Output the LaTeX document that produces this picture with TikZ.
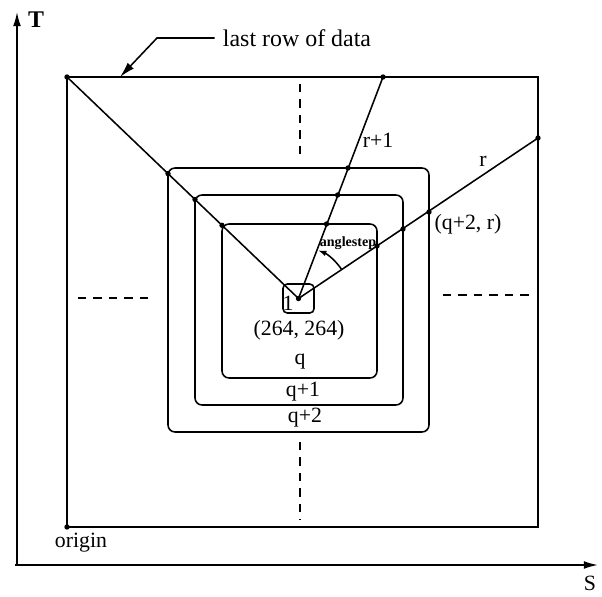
\documentclass[tikz,border=0pt]{standalone}
\usepackage{fontspec}
\setmainfont{Liberation Serif}
\usetikzlibrary{arrows.meta,calc}
\begin{document}
\begin{tikzpicture}[x=0.025cm,y=-0.025cm,
  ln/.style={line width=1.1pt},
  rbox/.style={line width=1.1pt, rounded corners=5pt},
  dashln/.style={line width=1.6pt, dash pattern=on 6pt off 5pt},
  pt/.style={circle, fill, inner sep=0pt, minimum size=3.8pt},
  lbl/.style={font=\fontsize{15.5}{17}\selectfont, inner sep=0pt},
  axisarrow/.style={line width=1.1pt, -{Latex[length=10pt,width=5.5pt]}}]
\useasboundingbox (0,0) rectangle (602,596);

% axes
\coordinate (o) at (17,565);
\coordinate (ttip) at (17,12);
\coordinate (stip) at (598,565);
\draw[axisarrow] (o) -- (ttip);
\draw[axisarrow] (15,565) -- (stip);
\node[lbl, font=\fontsize{17}{19}\selectfont\bfseries] (tl) at (36,20) {T};
\node[lbl] (sl) at (590,583) {S};

% outer rectangle (data area)
\coordinate (org) at (67,527);
\coordinate (tlc) at (67,77);
\draw[ln] (67,77) rectangle (538,527);
\node[lbl] (origin) at (81,543) {origin};

% dashed lines
\draw[dashln] (300,84) -- (300,156);
\draw[dashln] (300,442) -- (300,520);
\draw[dashln] (78,298) -- (152,298);
\draw[dashln] (443,295) -- (531,295);

% rounded boxes
\draw[rbox] (168,168) rectangle (429,432);
\draw[rbox] (195,195) rectangle (403,405);
\draw[rbox] (222,224) rectangle (377,378);
\draw[rbox, rounded corners=3pt] (283,284) rectangle (314,313);

% center
\coordinate (c) at (298.5,298.5);
\coordinate (rend) at (538,138);
\coordinate (r1end) at (383,77);

% rays
\draw[ln] (c) -- (tlc);
\draw[ln] (c) -- (r1end);
\draw[ln] (c) -- (rend);

% dots
\foreach \p in {(c),(tlc),(org),(rend),(r1end),
  (168,173.6),(195,199.5),(222,225.3),
  (348,168),(337.6,195),(326.5,224),
  (377,246),(403,229),(429,212)}
  \node[pt] at \p {};

% angle arc
\draw[ln, -{Latex[length=6pt,width=4pt]}] ($(c)+(-33.7:52)$) arc[start angle=-33.7, end angle=-68, radius=52];
\node[font=\fontsize{10}{12}\selectfont\bfseries, inner sep=0pt] (as) at (348,243) {anglestep};

% labels
\node[lbl] (one) at (288,303) {1};
\node[lbl] (cc) at (299,330) {(264, 264)};
\node[lbl] (lq) at (300,362) {q};
\node[lbl] (lq1) at (303,392) {q+1};
\node[lbl] (lq2) at (305,418) {q+2};
\node[lbl] (lr1) at (378,140) {r+1};
\node[lbl] (lr) at (483,161) {r};
\node[lbl] (lqr) at (468,224) {(q+2, r)};

% last row leader
\node[lbl, font=\fontsize{17}{19}\selectfont] (lastrow) at (297,38) {last row of data};
\coordinate (lrtip) at (120,77);
\draw[ln, -{Latex[length=11pt,width=6pt]}] (lastrow.west) ++(-8,0) -- (157,38) -- (lrtip);
\end{tikzpicture}
\end{document}
